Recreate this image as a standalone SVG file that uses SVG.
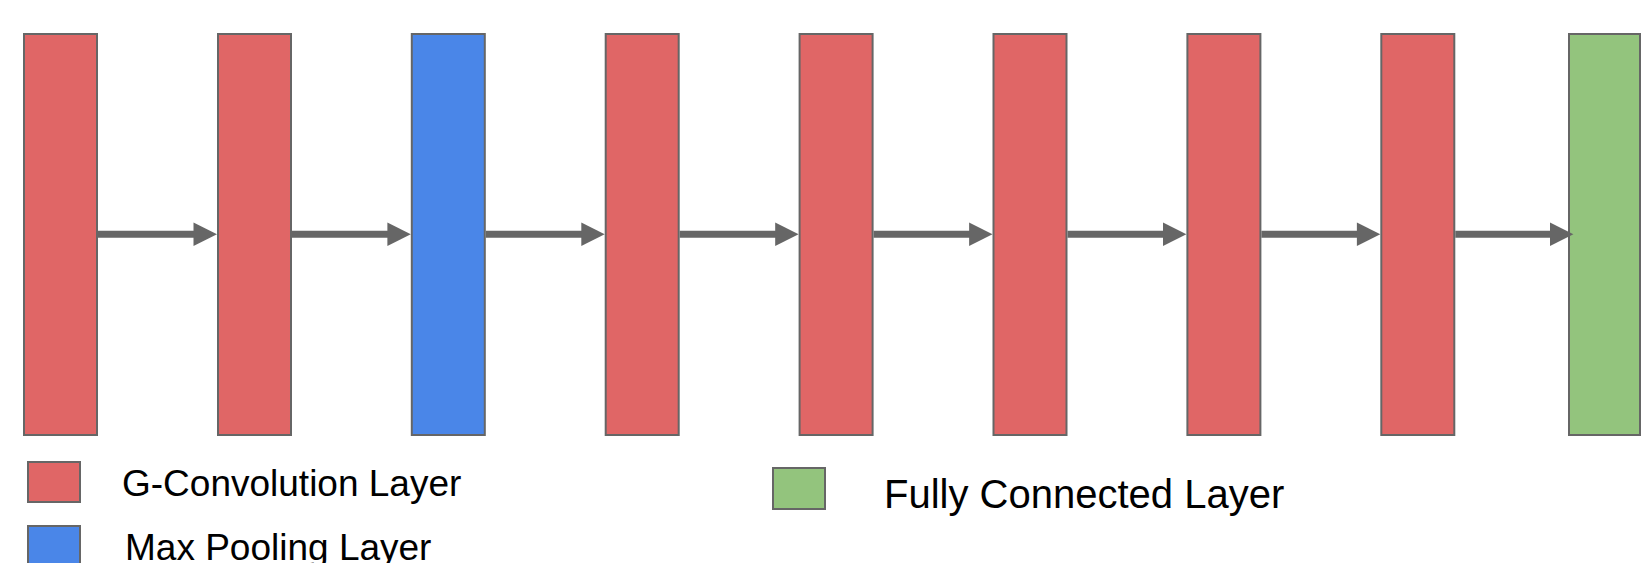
<svg xmlns="http://www.w3.org/2000/svg" width="1642" height="563" viewBox="0 0 1642 563">
  <defs>
    <style>
      .layer { stroke: #666666; stroke-width: 2; }
      .conv { fill: #e06666; }
      .pool { fill: #4a86e8; }
      .fc { fill: #93c47d; }
      .link { stroke: #666666; stroke-width: 7; fill: none; }
      .head { fill: #666666; }
      .label { font-family: "Liberation Sans", Arial, sans-serif; font-size: 37px; fill: #000000; }
    </style>
  </defs>
  <rect width="1642" height="563" fill="#ffffff"/>

  <!-- network layers -->
  <g id="layer1"><rect class="layer conv" x="24" y="34" width="73" height="401"/></g>
  <g id="layer2"><rect class="layer conv" x="218" y="34" width="73" height="401"/></g>
  <g id="layer3"><rect class="layer pool" x="411.8" y="34" width="73" height="401"/></g>
  <g id="layer4"><rect class="layer conv" x="605.7" y="34" width="73" height="401"/></g>
  <g id="layer5"><rect class="layer conv" x="799.6" y="34" width="73" height="401"/></g>
  <g id="layer6"><rect class="layer conv" x="993.5" y="34" width="73" height="401"/></g>
  <g id="layer7"><rect class="layer conv" x="1187.4" y="34" width="73" height="401"/></g>
  <g id="layer8"><rect class="layer conv" x="1381.3" y="34" width="73" height="401"/></g>
  <g id="layer9"><rect class="layer fc" x="1569" y="34" width="71" height="401"/></g>

  <!-- connectors between consecutive layers -->
  <g id="connectors">
    <line class="link" x1="98" y1="234.3" x2="195" y2="234.3"/>
    <polygon class="head" points="193.5,222.6 217,234.3 193.5,246"/>
    <line class="link" x1="292" y1="234.3" x2="389" y2="234.3"/>
    <polygon class="head" points="387.4,222.6 410.8,234.3 387.4,246"/>
    <line class="link" x1="485.8" y1="234.3" x2="583" y2="234.3"/>
    <polygon class="head" points="581.3,222.6 604.7,234.3 581.3,246"/>
    <line class="link" x1="679.7" y1="234.3" x2="777" y2="234.3"/>
    <polygon class="head" points="775.2,222.6 798.6,234.3 775.2,246"/>
    <line class="link" x1="873.6" y1="234.3" x2="971" y2="234.3"/>
    <polygon class="head" points="969.1,222.6 992.5,234.3 969.1,246"/>
    <line class="link" x1="1067.5" y1="234.3" x2="1165" y2="234.3"/>
    <polygon class="head" points="1163,222.6 1186.4,234.3 1163,246"/>
    <line class="link" x1="1261.4" y1="234.3" x2="1358" y2="234.3"/>
    <polygon class="head" points="1356.9,222.6 1380.3,234.3 1356.9,246"/>
    <line class="link" x1="1455.3" y1="234.3" x2="1552" y2="234.3"/>
    <polygon class="head" points="1550,222.6 1573.4,234.3 1550,246"/>
  </g>

  <!-- legend -->
  <g id="legend-conv">
    <rect class="layer conv" x="28" y="462" width="52" height="40"/>
    <text class="label" x="122" y="496">G-Convolution Layer</text>
  </g>
  <g id="legend-pool">
    <rect class="layer pool" x="28" y="526" width="52" height="40"/>
    <text class="label" x="125" y="560">Max Pooling Layer</text>
  </g>
  <g id="legend-fc">
    <rect class="layer fc" x="773" y="468" width="52" height="41"/>
    <text class="label" x="884" y="508" style="font-size:40px">Fully Connected Layer</text>
  </g>
</svg>
